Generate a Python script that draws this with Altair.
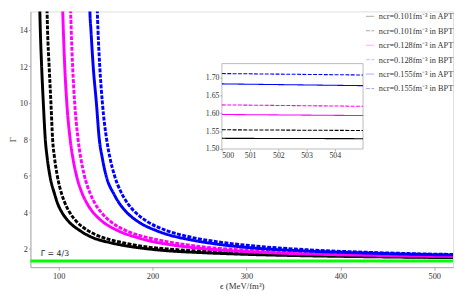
import altair as alt
import pandas as pd

# ---------------- data ----------------
series_names = [
    "ncr=0.101fm⁻³ in APT",
    "ncr=0.101fm⁻³ in BPT",
    "ncr=0.128fm⁻³ in APT",
    "ncr=0.128fm⁻³ in BPT",
    "ncr=0.155fm⁻³ in APT",
    "ncr=0.155fm⁻³ in BPT",
]
series_colors = ["#000000", "#000000", "#ff00ff", "#ff00ff", "#0000ff", "#0000ff"]
series_dashes = [[1, 0], [4, 1.5], [1, 0], [4, 1.5], [1, 0], [4, 1.5]]

# black solid (0.101, APT)
eps_101_apt = [79.6, 80.0, 80.5, 81.9, 83.7, 85.8, 87.8, 90.7, 95.7, 98.8, 103.5, 110.7, 122.7, 137, 150, 168, 195, 215, 250, 300, 365, 430, 500, 520]
gam_101_apt = [16, 15, 14, 12, 10, 8, 7, 6, 5, 4.5, 4, 3.5, 3, 2.6, 2.4, 2.2, 2.0, 1.9, 1.8, 1.7, 1.62, 1.57, 1.53, 1.522]
# black dashed (0.101, BPT)
eps_101_bpt = [87.3, 87.7, 88.2, 89.9, 91.8, 93.6, 95.6, 98.6, 103.3, 106.8, 111.7, 119, 131.2, 143, 155, 172, 195, 215, 250, 300, 365, 430, 500, 520]
gam_101_bpt = [16, 15, 14, 12, 10, 8, 7, 6, 5, 4.5, 4, 3.5, 3, 2.7, 2.5, 2.3, 2.1, 2.0, 1.88, 1.76, 1.67, 1.6, 1.554, 1.545]
# magenta solid (0.128, APT)
eps_128_apt = [103.9, 104.4, 105, 106.5, 108.7, 112.3, 115.1, 119.1, 125.4, 130.1, 136.7, 146.6, 163, 185, 200, 215, 250, 300, 365, 430, 500, 520]
gam_128_apt = [16, 15, 14, 12, 10, 8, 7, 6, 5, 4.5, 4, 3.5, 3, 2.6, 2.4, 2.26, 2.03, 1.85, 1.72, 1.65, 1.597, 1.588]
# magenta dashed (0.128, BPT)
eps_128_bpt = [112.3, 112.8, 113.4, 114.9, 117.1, 120.7, 123.5, 127.5, 133.9, 138.6, 145.3, 155.2, 171.8, 188.4, 205, 215, 250, 300, 365, 430, 500, 520]
gam_128_bpt = [16, 15, 14, 12, 10, 8, 7, 6, 5, 4.5, 4, 3.5, 3, 2.7, 2.5, 2.4, 2.13, 1.93, 1.78, 1.69, 1.624, 1.612]
# blue solid (0.155, APT)
eps_155_apt = [132.8, 133.3, 134.4, 136.8, 140.2, 143.3, 146.4, 150.6, 158.9, 164.6, 172.5, 184.4, 204, 215, 240, 270, 300, 365, 430, 500, 520]
gam_155_apt = [16, 15, 14, 12, 10, 8, 7, 6, 5, 4.5, 4, 3.5, 3, 2.8, 2.5, 2.25, 2.08, 1.88, 1.77, 1.683, 1.67]
# blue dashed (0.155, BPT)
eps_155_bpt = [140.6, 141.2, 141.9, 143.8, 146.6, 151.1, 154.6, 159.6, 167.5, 173.4, 181.7, 194.2, 215, 240, 270, 300, 365, 430, 500, 520]
gam_155_bpt = [16, 15, 14, 12, 10, 8, 7, 6, 5, 4.5, 4, 3.5, 3, 2.65, 2.38, 2.2, 1.95, 1.81, 1.712, 1.695]

# inset (zoom 500..505)
inset_eps = [500, 502.5, 505]
inset_101_apt = [1.530, 1.5295, 1.529]
inset_101_bpt = [1.554, 1.553, 1.552]
inset_128_apt = [1.597, 1.5955, 1.594]
inset_128_bpt = [1.624, 1.622, 1.620]
inset_155_apt = [1.683, 1.6805, 1.678]
inset_155_bpt = [1.712, 1.710, 1.708]

x_ticks = [100, 200, 300, 400, 500]
y_ticks = [2, 4, 6, 8, 10, 12, 14]
inset_x_ticks = [500, 501, 502, 503, 504]
inset_y_ticks = [1.50, 1.55, 1.60, 1.65, 1.70]
gamma_rel = [4 / 3]
gamma_label = ["Γ = 4/3"]
gamma_label_eps = [81]

# ---------------- tables ----------------
main_sets = [
    (eps_101_apt, gam_101_apt), (eps_101_bpt, gam_101_bpt),
    (eps_128_apt, gam_128_apt), (eps_128_bpt, gam_128_bpt),
    (eps_155_apt, gam_155_apt), (eps_155_bpt, gam_155_bpt),
]
rows = []
for name, (es, gs) in zip(series_names, main_sets):
    for e, g in zip(es, gs):
        rows.append({"eps": e, "gamma": g, "series": name})
df_main = pd.DataFrame(rows)

inset_sets = [inset_101_apt, inset_101_bpt, inset_128_apt, inset_128_bpt, inset_155_apt, inset_155_bpt]
rows = []
for name, gs in zip(series_names, inset_sets):
    for e, g in zip(inset_eps, gs):
        rows.append({"eps": e, "gamma": g, "series": name})
df_inset = pd.DataFrame(rows)

df_box = pd.DataFrame({"eps": [500], "eps2": [505], "gamma": [1.5], "gamma2": [1.74]})
df_green = pd.DataFrame({"gamma": gamma_rel})
df_glabel = pd.DataFrame({"eps": gamma_label_eps, "gamma": gamma_rel, "label": gamma_label})

# ---------------- layout ----------------
W = 433
H = 262
SERIF = "Liberation Serif"

legend = alt.Legend(
    title=None, orient="none", legendX=W - 90, legendY=0,
    symbolType="stroke", symbolSize=70, symbolStrokeWidth=1, symbolOpacity=0.35,
    labelFont=SERIF, labelFontSize=8.5, labelColor="#333", rowPadding=4.8,
)
color_enc = alt.Color("series:N", scale=alt.Scale(domain=series_names, range=series_colors), legend=legend)
dash_enc = alt.StrokeDash("series:N", scale=alt.Scale(domain=series_names, range=series_dashes), legend=legend)

x_main = alt.X("eps:Q", scale=alt.Scale(domain=[70, 520], nice=False, zero=False),
               axis=alt.Axis(values=x_ticks, title="ϵ (MeV/fm³)", grid=False, tickSize=3,
                             labelFont=SERIF, labelFontSize=8.5, titleFont=SERIF, titleFontSize=9,
                             titleFontWeight="normal", labelColor="#333", titleColor="#333",
                             domainColor="#aaa", tickColor="#aaa", labelPadding=2, titlePadding=1))
y_main = alt.Y("gamma:Q", scale=alt.Scale(domain=[1, 15], nice=False, zero=False),
               axis=alt.Axis(values=y_ticks, title="Γ", grid=False, tickSize=2,
                             labelFont=SERIF, labelFontSize=8.5, titleFont=SERIF, titleFontSize=9,
                             titleFontWeight="normal", labelColor="#333", titleColor="#333",
                             domainColor="#aaa", tickColor="#aaa", labelPadding=1, titlePadding=2))

curves = alt.Chart(df_main).mark_line(strokeWidth=3, clip=True, interpolate="monotone").encode(
    x=x_main, y=y_main, color=color_enc, strokeDash=dash_enc,
)
green = alt.Chart(df_green).mark_rule(color="#00ff00", strokeWidth=3).encode(y=alt.Y("gamma:Q"))
glabel = alt.Chart(df_glabel).mark_text(
    align="left", baseline="bottom", dy=-3, fontSize=8, font="DejaVu Sans", color="#222"
).encode(x="eps:Q", y="gamma:Q", text="label:N")

main = alt.layer(curves, green, glabel)

# inset placed by pixel ranges inside the plot area
ix0, ix1 = 0.453 * W, 0.787 * W
iy0, iy1 = 0.538 * H, 0.204 * H
x_in_scale = alt.Scale(domain=[500, 505], range=[ix0, ix1], nice=False, zero=False)
y_in_scale = alt.Scale(domain=[1.5, 1.74], range=[iy0, iy1], nice=False, zero=False)
x_in_axis = alt.Axis(orient="bottom", offset=-(H - iy0), values=inset_x_ticks, format="d", title=None,
                     grid=False, tickSize=2, labelFont=SERIF, labelFontSize=8, labelColor="#333",
                     domain=False, tickColor="#aaa", labelPadding=1, zindex=2)
y_in_axis = alt.Axis(orient="left", offset=-ix0, values=inset_y_ticks, format=".2f", title=None,
                     grid=False, tickSize=2, labelFont=SERIF, labelFontSize=8, labelColor="#333",
                     domain=False, tickColor="#aaa", labelPadding=1, zindex=2)

box = alt.Chart(df_box).mark_rect(fill="white", stroke="#aaa", strokeWidth=0.8).encode(
    x=alt.X("eps:Q", scale=x_in_scale, axis=x_in_axis),
    x2="eps2:Q",
    y=alt.Y("gamma:Q", scale=y_in_scale, axis=y_in_axis),
    y2="gamma2:Q",
)
inset_lines = alt.Chart(df_inset).mark_line(strokeWidth=1.1).encode(
    x=alt.X("eps:Q", scale=x_in_scale, axis=x_in_axis),
    y=alt.Y("gamma:Q", scale=y_in_scale, axis=y_in_axis),
    color=color_enc, strokeDash=dash_enc,
)
inset = alt.layer(box, inset_lines)

chart = alt.layer(main, inset).resolve_scale(x="independent", y="independent").properties(
    width=W, height=H, padding={"left": 0, "top": 0, "right": 0, "bottom": 0}
).configure_view(stroke="#aaa", strokeWidth=0.8).configure(background="white").configure_legend(
    symbolOpacity=0.35
)

chart.save("out.html", embed_options={"renderer": "svg", "actions": False})
